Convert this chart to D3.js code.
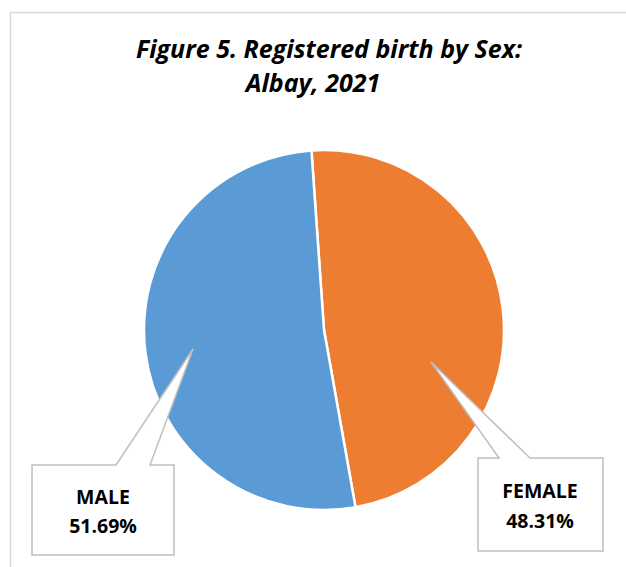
<!DOCTYPE html>
<html>
<head>
<meta charset="utf-8">
<script src="https://cdn.jsdelivr.net/npm/d3@7"></script>
<style>
  body { margin: 0; background: #fff; }
  svg { display: block; }
  text { font-family: "Open Sans", Lato, sans-serif; fill: #000; }
</style>
</head>
<body>
<div id="chart"></div>
<script>
// chart values
const sexLabels = ['FEMALE', 'MALE'];
const sharePct = [48.31, 51.69];
const sliceColors = ['#ED7D31', '#5B9BD5'];
const titleLines = ['Figure 5. Registered birth by Sex:', 'Albay, 2021'];

const width = 626, height = 567;
const cx = 324, cy = 330, radius = 180;

const svg = d3.select('#chart').append('svg')
  .attr('width', width)
  .attr('height', height);

// chart area frame (clipped by the window on right / bottom)
svg.append('rect')
  .attr('x', 10.5).attr('y', 12.5)
  .attr('width', 700).attr('height', 700)
  .attr('fill', 'none')
  .attr('stroke', '#d9d9d9')
  .attr('stroke-width', 1.5);

// title
const titleX = [329, 313];
svg.selectAll('text.title')
  .data(titleLines)
  .join('text')
  .attr('class', 'title')
  .attr('x', (d, i) => titleX[i])
  .attr('y', (d, i) => 58 + i * 34)
  .attr('text-anchor', 'middle')
  .style('font-size', '25px')
  .style('font-weight', 'bold')
  .style('font-style', 'italic')
  .text(d => d);

const data = sexLabels.map((s, i) => ({ sex: s, value: sharePct[i], color: sliceColors[i] }));

const pie = d3.pie()
  .sort(null)
  .value(d => d.value)
  .startAngle(-4 * Math.PI / 180)
  .endAngle(2 * Math.PI - 4 * Math.PI / 180);

const arc = d3.arc().innerRadius(0).outerRadius(radius);

const g = svg.append('g').attr('transform', `translate(${cx},${cy})`);

g.selectAll('path')
  .data(pie(data))
  .join('path')
  .attr('d', arc)
  .attr('fill', d => d.data.color)
  .attr('stroke', '#fff')
  .attr('stroke-width', 2.5)
  .attr('stroke-linejoin', 'round');

// callout boxes: box rect, pointer base on top edge, pointer tip
const callouts = {
  FEMALE: { x0: 478, y0: 458, x1: 603, y1: 551, b0: 499, b1: 530, tip: [431, 362], tx: 540, ty: [498, 528] },
  MALE:   { x0: 32,  y0: 465, x1: 174, y1: 555, b0: 116, b1: 150, tip: [193, 349], tx: 103, ty: [504, 533] }
};

function calloutPath(c) {
  return `M${c.x0},${c.y0} L${c.b0},${c.y0} L${c.tip[0]},${c.tip[1]} L${c.b1},${c.y0} ` +
    `L${c.x1},${c.y0} L${c.x1},${c.y1} L${c.x0},${c.y1} Z`;
}

const labels = svg.selectAll('g.callout')
  .data(data)
  .join('g')
  .attr('class', 'callout');

labels.append('path')
  .attr('d', d => calloutPath(callouts[d.sex]))
  .attr('fill', '#fff')
  .attr('stroke', '#bfbfbf')
  .attr('stroke-width', 1.5)
  .attr('stroke-linejoin', 'miter');

labels.each(function(d) {
  const c = callouts[d.sex];
  const sel = d3.select(this);
  [d.sex, d.value.toFixed(2) + '%'].forEach((t, i) => {
    sel.append('text')
      .attr('x', c.tx)
      .attr('y', c.ty[i])
      .attr('text-anchor', 'middle')
      .style('font-size', '19.5px')
      .style('font-weight', 'bold')
      .text(t);
  });
});
</script>
</body>
</html>
